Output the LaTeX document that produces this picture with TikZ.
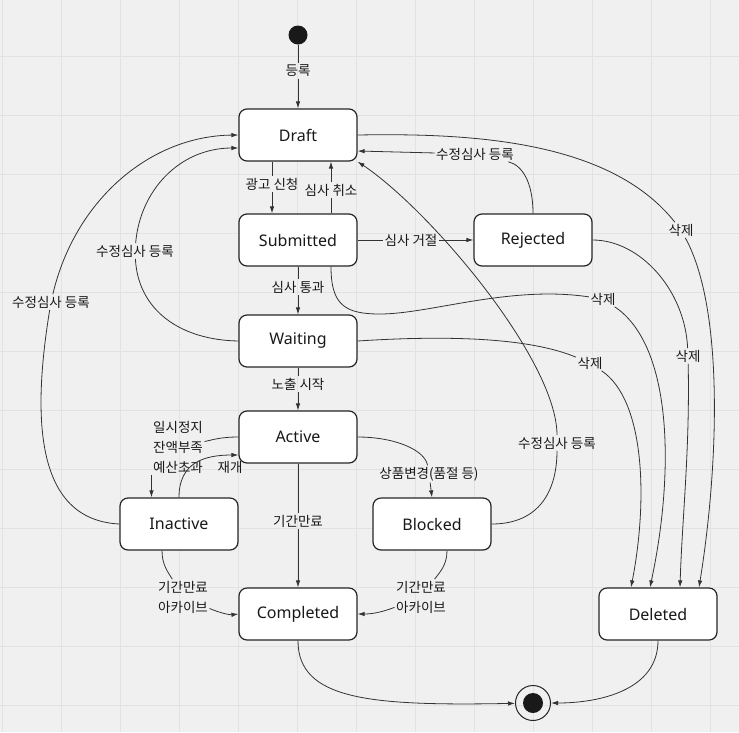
\documentclass[tikz,border=0pt]{standalone}
\usepackage{fontspec}
\setmainfont{Noto Sans}
\newfontfamily\kofont{Noto Sans CJK KR}
\usepackage{tikz}
\usetikzlibrary{arrows.meta}
\definecolor{canvas}{HTML}{F0F0F0}
\definecolor{gridc}{HTML}{E2E2E2}
\definecolor{ink}{HTML}{333333}

\begin{document}
\begin{tikzpicture}[x=1pt, y=-1pt]
	\useasboundingbox (0,0) rectangle (739,732);
	\fill[canvas] (0,0) rectangle (739,732);
	\foreach \gx in {2,61,...,710} \draw[gridc, line width=1pt] (\gx,0) -- (\gx,732);
	\foreach \gy in {56,115,...,705} \draw[gridc, line width=1pt] (0,\gy) -- (739,\gy);

	\begin{scope}[every node/.style={rectangle, rounded corners=8pt, draw=black!85, line width=1.2pt, fill=white, text=black!90,
	              minimum width=118pt, minimum height=52pt, font=\fontsize{16}{19}\selectfont}]
		\node (draft) at (298,135) {Draft};
		\node (sub) at (298,240) {Submitted};
		\node (rej) at (533,240) {Rejected};
		\node (wait) at (298,341) {Waiting};
		\node (act) at (298,437) {Active};
		\node (inact) at (179,524) {Inactive};
		\node (block) at (432,524) {Blocked};
		\node (done) at (298,614) {Completed};
		\node (del) at (658,614) {Deleted};
	\end{scope}

	\node[circle, fill=black!90, minimum size=19pt, inner sep=0pt] (init) at (298,35) {};
	\node[circle, draw=black!85, line width=1pt, minimum size=35pt, inner sep=0pt] (final) at (533,703) {};
	\node[circle, fill=black!90, minimum size=20pt, inner sep=0pt] (finaldot) at (final) {};

	\begin{scope}[every node/.style={font=\kofont\fontsize{13.5}{20}\selectfont, inner sep=1.5pt, text=black!90, align=center}]
		\node (l1) at (298,71) {등록};
		\node (l2) at (272,184) {광고 신청};
		\node (l3) at (331,190) {심사 취소};
		\node (l4) at (411,240) {심사 거절};
		\node (l5) at (475,154) {수정심사 등록};
		\node (l6) at (681,230) {삭제};
		\node (l7) at (603,299) {삭제};
		\node (l8) at (688,356) {삭제};
		\node (l9) at (590,363) {삭제};
		\node (l10) at (298,287) {심사 통과};
		\node (l11) at (298,384) {노출 시작};
		\node (l12) at (135,251) {수정심사 등록};
		\node (l13) at (51,302) {수정심사 등록};
		\node (l14) at (557,443) {수정심사 등록};
		\node (l15) at (178,447) {일시정지\\잔액부족\\예산초과};
		\node (l16) at (230,467) {재개};
		\node (l17) at (429,474) {상품변경(품절 등)};
		\node (l18) at (298,521) {기간만료};
		\node (l19) at (183,597) {기간만료\\아카이브};
		\node (l20) at (421,597) {기간만료\\아카이브};
	\end{scope}

	\begin{scope}[>={Latex[length=7pt,width=4.5pt]}, ink, line width=0.8pt,
	              every edge/.style={draw=ink}]
		% straight ones
		\path (init) edge (l1);
		\path (l1) edge[->] (draft);
		\path ([xshift=-26pt]draft.south) edge (l2);
		\path (l2) edge[->] ([xshift=-26pt]sub.north);
		\path ([xshift=33pt]sub.north) edge (l3);
		\path (l3) edge[->] ([xshift=33pt]draft.south);
		\path (sub.east) edge (l4);
		\path (l4) edge[->] (rej.west);
		\path (sub.south) edge (l10);
		\path (l10) edge[->] (wait.north);
		\path (wait.south) edge (l11);
		\path (l11) edge[->] (act.north);
		\path (act.south) edge (l18);
		\path (l18) edge[->] (done.north);

		% back to draft
		\draw (rej.north) .. controls (533,182) and (522,165) .. (l5);
		\path (l5) edge[->] ([yshift=-16pt]draft.east);
		\draw (wait.west) .. controls (180,340) and (138,310) .. (l12);
		\draw[->] (l12) .. controls (140,190) and (180,148) .. ([yshift=-13pt]draft.west);
		\draw (inact.west) .. controls (40,520) and (30,430) .. (l13);
		\draw[->] (l13) .. controls (75,200) and (150,136) .. (draft.west);
		\draw (block.east) .. controls (540,524) and (557,490) .. (l14);
		\draw[->] (l14) .. controls (557,360) and (430,210) .. (draft.south east);

		% to deleted
		\draw (draft.east) .. controls (470,133) and (610,140) .. (l6);
		\draw[->] (l6) .. controls (725,310) and (718,470) .. ([xshift=41pt]del.north);
		\draw ([xshift=33pt]sub.south) .. controls (331,305) and (345,314) .. (380,314)
		      .. controls (430,314) and (510,285) .. (l7);
		\draw[->] (l7) .. controls (672,345) and (675,470) .. ([xshift=-8pt]del.north);
		\draw (rej.east) .. controls (640,240) and (685,290) .. (l8);
		\draw[->] (l8) .. controls (690,450) and (682,520) .. ([xshift=22pt]del.north);
		\draw (wait.east) .. controls (450,335) and (530,338) .. (l9);
		\draw[->] (l9) .. controls (645,400) and (648,500) .. ([xshift=-27pt]del.north);

		% around active
		\draw (act.west) .. controls (220,437) and (212,440) .. (l15);
		\path (l15.south west) edge[->] (l15.south west |- inact.north);
		\draw[->] (inact.north) .. controls (179,462) and (205,455) .. ([yshift=-18pt]act.west);
		\draw (act.east) .. controls (395,437) and (425,450) .. (l17);
		\path (l17) edge[->] (block.north);
		\draw ([xshift=-17pt]inact.south) .. controls (162,565) and (168,572) .. (l19);
		\draw[->] (l19) .. controls (220,613) and (230,615) .. (done.west);
		\draw ([xshift=15pt]block.south) .. controls (447,565) and (440,572) .. (l20);
		\draw[->] (l20) .. controls (380,613) and (370,614) .. (done.east);

		% to the end
		\draw[->] (done.south) .. controls (298,700) and (370,706) .. (final);
		\draw[->] (del.south) .. controls (658,690) and (600,703) .. (final);
	\end{scope}
\end{tikzpicture}
\end{document}
